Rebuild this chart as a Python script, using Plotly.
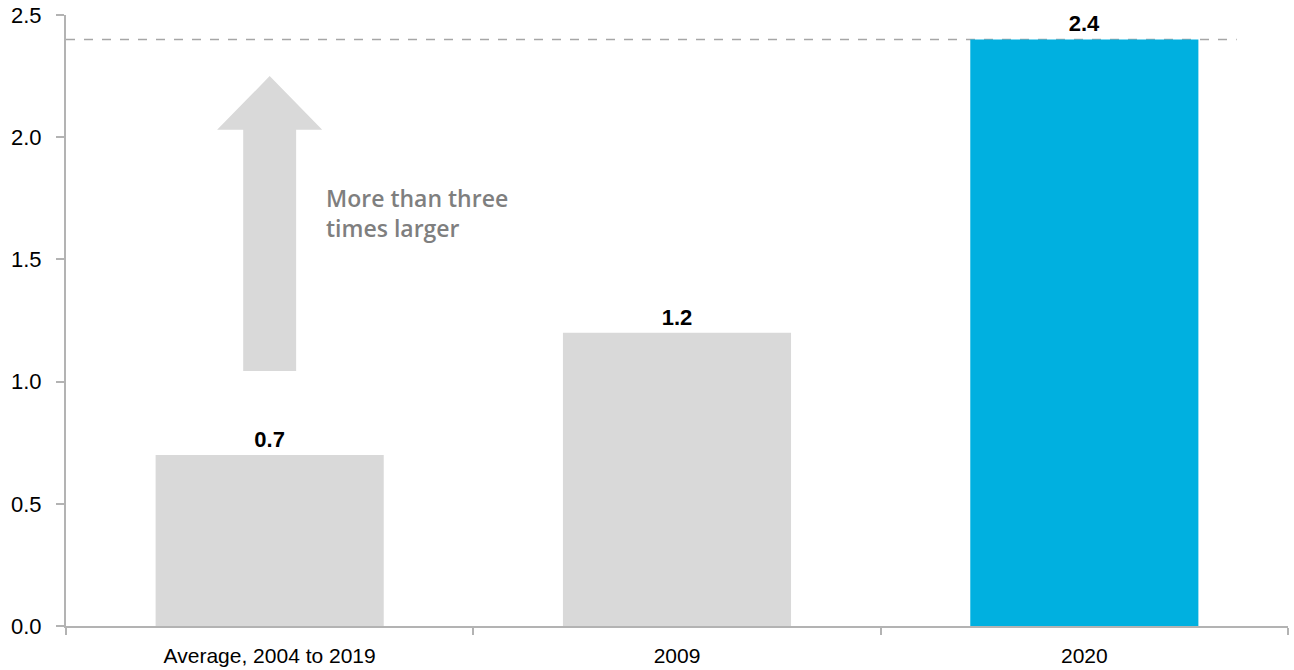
import plotly.graph_objects as go

categories = ["Average, 2004 to 2019", "2009", "2020"]
values = [0.7, 1.2, 2.4]
bar_colors = ["#d9d9d9", "#d9d9d9", "#00b0e0"]
value_labels = ["0.7", "1.2", "2.4"]
y_ticks = [0.0, 0.5, 1.0, 1.5, 2.0, 2.5]
note_text = "More than three<br>times larger"

FONT = "Liberation Sans, Arial, sans-serif"

fig = go.Figure()
fig.add_trace(go.Bar(
    x=categories, y=values, marker=dict(color=bar_colors, line=dict(width=0)),
    text=value_labels, textposition="outside", cliponaxis=False,
    textfont=dict(family=FONT, size=22, color="#000000"),
    texttemplate="<b>%{text}</b>", hoverinfo="skip",
))

# dashed reference line at the 2020 level
fig.add_shape(type="line", xref="paper", yref="y", x0=0, x1=0.958, y0=values[2], y1=values[2],
              line=dict(color="#a6a6a6", width=1.5, dash="dash"), layer="below")

# up arrow
fig.add_shape(type="path", xref="x", yref="y", layer="below",
              path="M -0.065,1.043 L 0.065,1.043 L 0.065,2.03 L 0.129,2.03 L 0,2.25 L -0.129,2.03 L -0.065,2.03 Z",
              fillcolor="#d9d9d9", line=dict(width=0))

fig.add_annotation(x=0.133, y=1.69, xref="x", yref="y", text=note_text, showarrow=False,
                   xanchor="left", yanchor="middle", align="left",
                   font=dict(family="Open Sans", size=23, color="#7f7f7f", weight=600))

fig.update_layout(
    width=1294, height=670, margin=dict(l=66, r=6, t=15, b=44),
    paper_bgcolor="white", plot_bgcolor="white", showlegend=False, bargap=0.44,
    font=dict(family=FONT, size=22, color="#000000"),
)
fig.update_xaxes(showline=True, linecolor="#b3b3b3", linewidth=2, ticks="outside", tickson="boundaries",
                 ticklen=7, tickcolor="#b3b3b3", tickwidth=2, showgrid=False, automargin=False,
                 ticklabelstandoff=10, tickfont=dict(size=21))
fig.update_yaxes(range=[0, 2.5], tickvals=y_ticks, tickformat=".1f", showline=True, linecolor="#b3b3b3",
                 linewidth=2, ticks="outside", ticklen=8, tickcolor="#b3b3b3", tickwidth=2, automargin=False,
                 showgrid=False, zeroline=False, ticklabelstandoff=10, tickfont=dict(size=22))

fig.write_html("out.html")
